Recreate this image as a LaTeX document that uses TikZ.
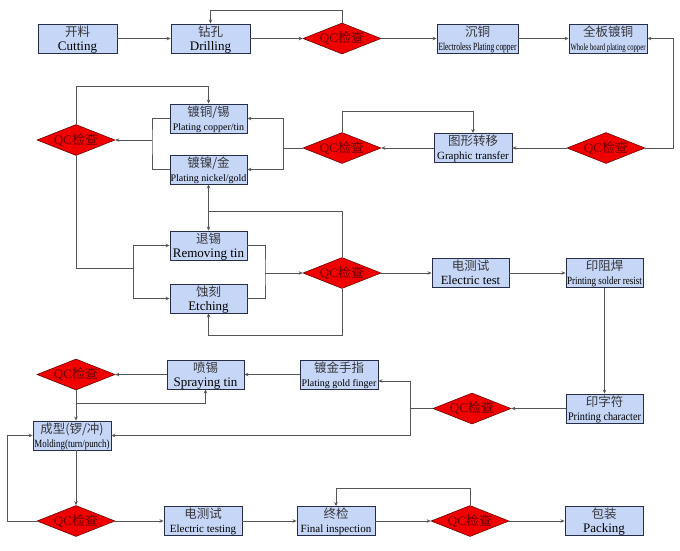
\documentclass[tikz,border=0pt]{standalone}
\usepackage{graphicx}
\usepackage{fontspec}
\setmainfont{Liberation Serif}
\newfontfamily\cn{Noto Sans CJK SC}
\usetikzlibrary{arrows.meta,shapes.geometric,calc}
\definecolor{boxfill}{RGB}{198,214,246}
\definecolor{boxline}{RGB}{40,45,70}
\definecolor{wirecol}{RGB}{85,85,85}
\definecolor{qcred}{RGB}{240,0,0}
\definecolor{qctext}{RGB}{110,0,0}
\definecolor{cntext}{RGB}{55,55,60}
\tikzset{
  stepbox/.style={rectangle, draw=boxline, fill=boxfill, line width=0.9pt, minimum height=29pt, inner sep=0pt},
  qc/.style={diamond, draw=qctext, fill=qcred, line width=0.6pt, minimum width=78pt, minimum height=31pt, inner sep=0pt, text=qctext, font=\fontsize{13}{13}\selectfont},
  wire/.style={draw=wirecol, line width=0.8pt},
  arr/.style={wire, -{Stealth[length=4pt,width=3.5pt]}},
  cnlab/.style={anchor=base, inner sep=0pt, text=cntext, font=\cn\fontsize{12.5}{12.5}\selectfont},
  enlab/.style={anchor=base, inner sep=0pt, text=black},
}
\newcommand\stepnode[6]{%
  \node[stepbox, minimum width=#3pt] (#1) at (#2) {};
  \path (#1.center) ++(0,-2.5) node[cnlab] (#1-cn) {#4};
  \path (#1.center) ++(0,11.5) node[enlab, font=\fontsize{#5}{#5}\selectfont] (#1-en) {#6};
}
\newcommand\qcnode[2]{\node[qc] (#1) at (#2) {\makebox[0pt]{QC{\cn 检查}}};}
\begin{document}
\begin{tikzpicture}[x=1pt,y=-1pt]
\fill[white] (0,0) rectangle (680,550);
\useasboundingbox (0,0) rectangle (680,550);
% boxes
\stepnode{cut}{77.5,38.5}{79}{开料}{13}{Cutting}
\stepnode{drill}{210.5,38.5}{79}{钻孔}{13}{Drilling}
\stepnode{elec}{477.5,38.5}{81}{沉铜}{11}{\resizebox{78pt}{\height}{Electroless Plating copper}}
\stepnode{whole}{608,38.5}{78}{全板镀铜}{9.5}{\resizebox{75pt}{\height}{Whole board plating copper}}
\stepnode{graph}{473,148}{78}{图形转移}{11}{Graphic transfer}
\stepnode{pcu}{208.5,118.5}{77}{镀铜/锡}{10}{Plating copper/tin}
\stepnode{pni}{208.5,169.5}{77}{镀镍/金}{10}{Plating nickel/gold}
\stepnode{rtin}{208.5,245.5}{77}{退锡}{13}{Removing tin}
\stepnode{etch}{208.5,298.5}{77}{蚀刻}{13}{Etching}
\stepnode{etest}{470.5,273}{77}{电测试}{12.5}{Electric test}
\stepnode{solder}{604.5,273}{77}{印阻焊}{11}{\resizebox{75pt}{\height}{Printing solder resist}}
\stepnode{pchar}{604.5,408.5}{77}{印字符}{11.5}{\resizebox{73pt}{\height}{Printing character}}
\stepnode{gold}{339,374.5}{78}{镀金手指}{10}{Plating gold finger}
\stepnode{spray}{205.5,374.5}{77}{喷锡}{13}{Spraying tin}
\stepnode{mold}{72,435.5}{78}{成型(锣/冲)}{11}{\resizebox{75pt}{\height}{Molding(turn/punch)}}
\stepnode{etesttwo}{203,521}{78}{电测试}{11}{Electric testing}
\stepnode{final}{336,521}{78}{终检}{11}{Final inspection}
\stepnode{pack}{604,521}{78}{包装}{13}{Packing}
% QC diamonds
\qcnode{q1}{342,38.5}
\qcnode{q2}{606,148}
\qcnode{q3}{342,148}
\qcnode{q4}{76,140}
\qcnode{q5}{342,273}
\qcnode{q6}{472,408.5}
\qcnode{q7}{76,374.5}
\qcnode{q8}{76,521}
\qcnode{q9}{470,521}
% routing coordinates
\coordinate (r1) at (0,10);
\coordinate (r2) at (673,0);
\coordinate (r3) at (0,111);
\coordinate (b1) at (283,148);
\coordinate (b2) at (152,140);
\coordinate (r6) at (0,86);
\coordinate (b3) at (133,268);
\coordinate (b4) at (265,273);
\coordinate (r9) at (0,211);
\coordinate (r10) at (0,335);
\coordinate (b5) at (410,408.5);
\coordinate (r11) at (0,381);
\coordinate (r14) at (0,403);
\coordinate (r15) at (7,0);
\coordinate (r16) at (0,488);
% connectors
\draw[arr] (cut) -- (drill);
\draw[arr] (drill) -- (q1);
\draw[arr] (q1.north) |- (drill.north |- r1) -- (drill.north);
\draw[arr] (q1) -- (elec);
\draw[arr] (elec) -- (whole);
\draw[arr] (q2.east) -| (r2 |- whole.east) -- (whole.east);
\draw[arr] (q2) -- (graph);
\draw[arr] (graph) -- (q3);
\draw[arr] (q3.north) |- (graph.north |- r3) -- (graph.north);
\draw[wire] (q3.west) -- (b1);
\draw[arr] (b1) |- (pcu.east);
\draw[arr] (b1) |- (pni.east);
\draw[wire] (pcu.west) -| (b2) |- (pni.west);
\draw[arr] (b2) -- (q4.east);
\draw[arr] (q4.north) |- (pcu.north |- r6) -- (pcu.north);
\draw[wire] (q4.south) |- (b3);
\draw[arr] (b3) |- (rtin.west);
\draw[arr] (b3) |- (etch.west);
\draw[wire] (rtin.east) -| (b4) |- (etch.east);
\draw[arr] (b4) -- (q5.west);
\draw[wire] (q5.north) |- (pni.south |- r9);
\draw[arr] (pni.south |- r9) -- (pni.south);
\draw[arr] (pni.south |- r9) -- (rtin.north);
\draw[arr] (q5.south) |- (etch.south |- r10) -- (etch.south);
\draw[arr] (q5) -- (etest);
\draw[arr] (etest) -- (solder);
\draw[arr] (solder) -- (pchar);
\draw[arr] (pchar) -- (q6);
\draw[wire] (q6.west) -- (b5);
\draw[arr] (b5) |- (gold.east |- r11);
\draw[arr] (b5) |- (mold.east);
\draw[arr] (gold) -- (spray);
\draw[arr] (spray) -- (q7);
\draw[arr] (q7.south) -- (q7.south |- mold.north);
\draw[arr] (q7.south) |- (spray.south |- r14) -- (spray.south);
\draw[arr] (q8.north |- mold.south) -- (q8.north);
\draw[arr] (q8.west) -| (r15 |- mold.west) -- (mold.west);
\draw[arr] (q8) -- (etesttwo);
\draw[arr] (etesttwo) -- (final);
\draw[arr] (final) -- (q9);
\draw[arr] (q9.north) |- (final.north |- r16) -- (final.north);
\draw[arr] (q9) -- (pack);
\end{tikzpicture}
\end{document}
